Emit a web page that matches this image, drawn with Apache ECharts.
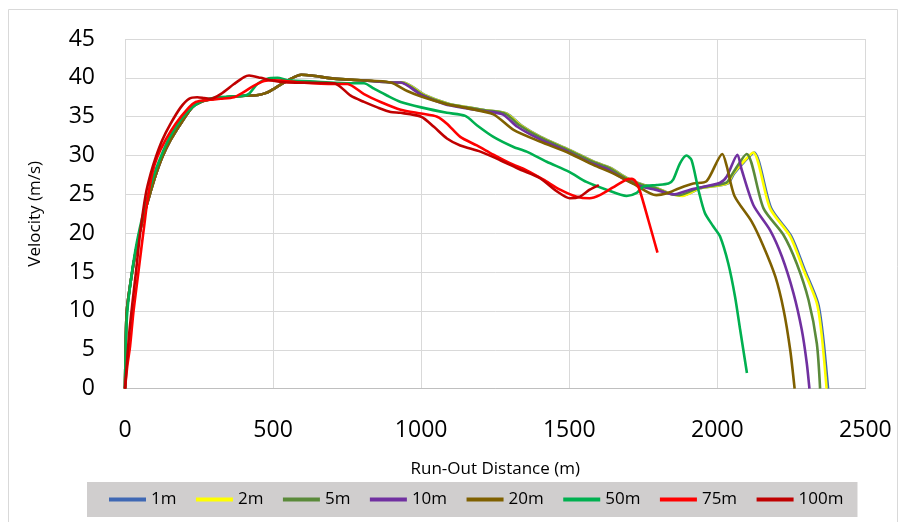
<!DOCTYPE html>
<html>
<head>
<meta charset="utf-8">
<script src="https://cdn.jsdelivr.net/npm/echarts@6/dist/echarts.min.js"></script>
<style>html,body{margin:0;padding:0;background:#fff}#c{width:898px;height:522px}</style>
</head>
<body>
<div id="c"></div>
<script>
// Tick labels / axis ranges
const xTicks = [0, 500, 1000, 1500, 2000, 2500];
const yTicks = [0, 5, 10, 15, 20, 25, 30, 35, 40, 45];
const seriesNames = ['1m', '2m', '5m', '10m', '20m', '50m', '75m', '100m'];

// [run-out distance (m), velocity (m/s)]
const s1m = [[0,0],[2,5],[6,10],[20,14],[38,18],[58,21.5],[80,24.5],[104,27.5],[126,29.8],[154,32],[188,34.1],[227,36.2],[256,36.9],[301,37.3],[368,37.6],[450,37.8],[472,38.0],[494,38.4],[537,39.4],[571,40.1],[595,40.4],[630,40.3],[706,39.9],[796,39.7],[909,39.4],[940,39.4],[1012,37.8],[1090,36.7],[1158,36.2],[1225,35.8],[1290,35.4],[1338,33.9],[1404,32.4],[1503,30.7],[1584,29.2],[1640,28.4],[1696,27.1],[1752,26.2],[1797,25.8],[1841,25.1],[1885,24.9],[1944,25.8],[2035,26.4],[2057,27.7],[2091,29.2],[2124,30.4],[2182,23.2],[2250,19.6],[2295,15.3],[2340,11.0],[2357,6.7],[2374,0]];
const s2m = [[0,0],[2,5],[6,10],[20,14],[38,18],[58,21.5],[80,24.5],[104,27.5],[126,29.8],[154,32],[188,34.1],[227,36.2],[256,36.9],[301,37.3],[368,37.6],[450,37.8],[472,38.0],[494,38.4],[537,39.4],[571,40.1],[595,40.4],[630,40.3],[706,39.9],[796,39.7],[909,39.4],[938,39.4],[1010,37.8],[1088,36.7],[1156,36.2],[1223,35.8],[1288,35.4],[1336,33.9],[1402,32.4],[1501,30.7],[1582,29.2],[1638,28.4],[1694,27.1],[1750,26.2],[1795,25.8],[1839,25.1],[1882,24.8],[1941,25.8],[2032,26.4],[2054,27.7],[2088,29.2],[2121,30.4],[2178,23.2],[2246,19.6],[2291,15.3],[2336,11.0],[2353,6.7],[2369,0]];
const s5m = [[0,0],[2,5],[6,10],[20,14],[38,18],[58,21.5],[80,24.5],[104,27.5],[126,29.8],[154,32],[188,34.1],[227,36.2],[256,36.9],[301,37.3],[368,37.6],[450,37.8],[472,38.0],[494,38.4],[537,39.4],[571,40.1],[595,40.4],[630,40.3],[706,39.9],[796,39.7],[909,39.4],[934,39.4],[1006,37.8],[1085,36.7],[1152,36.2],[1220,35.8],[1284,35.4],[1332,33.9],[1399,32.4],[1498,30.7],[1579,29.2],[1635,28.4],[1691,27.1],[1747,26.2],[1792,25.8],[1836,25.1],[1872,24.9],[1935,25.8],[2030,26.5],[2050,27.6],[2099,30.2],[2156,23.2],[2223,19.8],[2268,16.1],[2308,11.4],[2336,5.8],[2347,0]];
const s10m = [[0,0],[2,5],[6,10],[20,14],[38,18],[58,21.5],[80,24.5],[104,27.5],[126,29.8],[154,32],[188,34.1],[227,36.2],[256,36.9],[301,37.3],[368,37.6],[450,37.8],[472,38.0],[494,38.4],[537,39.4],[571,40.1],[595,40.4],[630,40.3],[706,39.9],[796,39.7],[909,39.4],[930,39.4],[1000,37.8],[1080,36.6],[1150,36.1],[1215,35.7],[1275,35.3],[1325,33.7],[1395,32.2],[1495,30.5],[1575,29.0],[1630,28.2],[1688,26.9],[1745,26.0],[1790,25.6],[1851,25.0],[1908,25.6],[2009,26.5],[2032,27.3],[2068,30.1],[2082,28.2],[2122,23.6],[2178,20.4],[2218,17.0],[2257,12.3],[2285,7.6],[2302,3.3],[2311,0]];
const s20m = [[0,0],[2,5],[6,10],[20,14],[38,18],[58,21.5],[80,24.5],[104,27.5],[126,29.8],[154,32],[188,34.1],[227,36.2],[256,36.9],[301,37.3],[368,37.6],[450,37.8],[472,38.0],[494,38.4],[537,39.4],[571,40.1],[595,40.4],[630,40.3],[706,39.9],[796,39.7],[897,39.4],[953,38.3],[1000,37.6],[1087,36.6],[1155,36.1],[1244,35.3],[1312,33.3],[1401,31.8],[1500,30.3],[1581,28.8],[1648,27.7],[1715,26.4],[1794,24.9],[1827,25.1],[1872,25.8],[1919,26.4],[1964,26.7],[2017,30.2],[2032,28.6],[2058,24.8],[2116,21.5],[2156,18.3],[2196,14.4],[2224,10.1],[2246,5.0],[2261,0]];
const s50m = [[0,0],[3,6],[8,10],[20,14],[36,18],[55,21.5],[75,24.5],[95,27.2],[118,29.6],[150,32.3],[190,34.7],[230,36.3],[270,37.2],[320,37.5],[400,37.7],[420,38.0],[447,39.2],[481,39.9],[515,40.0],[548,39.7],[650,39.5],[760,39.3],[807,39.3],[841,38.6],[886,37.7],[931,36.9],[1000,36.2],[1087,35.5],[1149,35.1],[1188,33.9],[1244,32.4],[1312,31.1],[1356,30.5],[1424,29.2],[1500,27.9],[1558,26.6],[1626,25.6],[1694,24.8],[1728,25.2],[1750,26.0],[1795,26.2],[1835,26.4],[1851,26.9],[1874,29.0],[1896,30.0],[1913,29.4],[1936,25.6],[1958,22.6],[1986,20.9],[2009,19.6],[2037,16.1],[2060,11.8],[2077,7.6],[2100,2.0]];
const s75m = [[0,0],[8,3],[17,5.4],[28,9.7],[42,14],[55,18],[65,21],[75,24],[92,27.7],[109,29.8],[137,32],[171,34.1],[216,36.2],[239,36.9],[267,37.1],[323,37.3],[368,37.5],[402,38.2],[436,39.0],[470,39.6],[503,39.7],[593,39.4],[706,39.2],[751,39.2],[807,37.9],[863,36.9],[931,35.9],[1000,35.4],[1054,35.0],[1087,34.1],[1132,32.4],[1188,31.3],[1244,30.1],[1300,29.0],[1356,28.1],[1413,26.9],[1469,25.6],[1525,24.7],[1569,24.5],[1603,24.9],[1648,25.9],[1693,26.9],[1711,27.0],[1725,26.6],[1739,25.4],[1767,21.7],[1798,17.5]];
const s100m = [[0,0],[6,3],[14,7],[25,11],[37,15],[51,20],[70,25],[87,27.7],[104,29.8],[126,32],[154,34.1],[188,36.2],[216,37.3],[244,37.5],[267,37.4],[289,37.3],[323,37.9],[368,39.2],[402,40.1],[419,40.3],[458,40.0],[492,39.7],[548,39.4],[706,39.3],[729,38.8],[762,37.7],[807,36.9],[852,36.2],[897,35.6],[930,35.5],[1000,35.0],[1043,33.7],[1087,32.2],[1132,31.3],[1200,30.5],[1267,29.4],[1334,28.2],[1401,27.1],[1458,25.4],[1502,24.5],[1536,24.7],[1569,25.6],[1600,26.2]];

const seriesData = [s1m, s2m, s5m, s10m, s20m, s50m, s75m, s100m];
const colors = ['#3F68B4', '#FFFF00', '#5A8A3A', '#7030A0', '#7F6000', '#00B050', '#FF0000', '#C00000'];

const FONT = "'Open Sans', 'Liberation Sans', sans-serif";
const chart = echarts.init(document.getElementById('c'), null, {renderer: 'canvas'});
chart.setOption({
  animation: false,
  backgroundColor: '#ffffff',
  color: colors,
  graphic: [{
    type: 'rect', z: -10, silent: true,
    shape: {x: 8.5, y: 9.5, width: 889, height: 520},
    style: {fill: 'none', stroke: '#d9d9d9', lineWidth: 1}
  }],
  grid: {left: 125, right: 32.6, top: 39, bottom: 133.4, containLabel: false},
  xAxis: {
    type: 'value', min: xTicks[0], max: xTicks[xTicks.length - 1], interval: 500,
    name: 'Run-Out Distance (m)', nameLocation: 'middle', nameGap: 72,
    nameTextStyle: {fontFamily: FONT, fontSize: 17, color: '#000'},
    axisLine: {show: true, lineStyle: {color: '#bfbfbf', width: 1}},
    axisTick: {show: false},
    axisLabel: {margin: 30, fontFamily: FONT, fontSize: 23, color: '#000', formatter: v => String(v)},
    splitLine: {show: true, lineStyle: {color: '#d9d9d9', width: 1}}
  },
  yAxis: {
    type: 'value', min: yTicks[0], max: yTicks[yTicks.length - 1], interval: 5,
    name: 'Velocity (m/s)', nameLocation: 'middle', nameGap: 81,
    nameTextStyle: {fontFamily: FONT, fontSize: 17, color: '#000'},
    axisLine: {show: false},
    axisTick: {show: false},
    axisLabel: {margin: 30, fontFamily: FONT, fontSize: 23, color: '#000', formatter: v => String(v)},
    splitLine: {show: true, lineStyle: {color: '#d9d9d9', width: 1}}
  },
  legend: {
    left: 87, top: 482,
    backgroundColor: '#d0cece',
    padding: [9, 14, 9, 22],
    icon: 'rect', itemWidth: 37, itemHeight: 4, itemGap: 19.5,
    textStyle: {fontFamily: FONT, fontSize: 17, color: '#000'},
    data: seriesNames
  },
  series: seriesNames.map((n, i) => ({
    name: n, type: 'line', data: seriesData[i],
    symbol: 'none', smooth: 0.25,
    lineStyle: {width: 2.6, color: colors[i]},
    itemStyle: {color: colors[i]},
    z: 2 + i
  }))
});
</script>
</body>
</html>
